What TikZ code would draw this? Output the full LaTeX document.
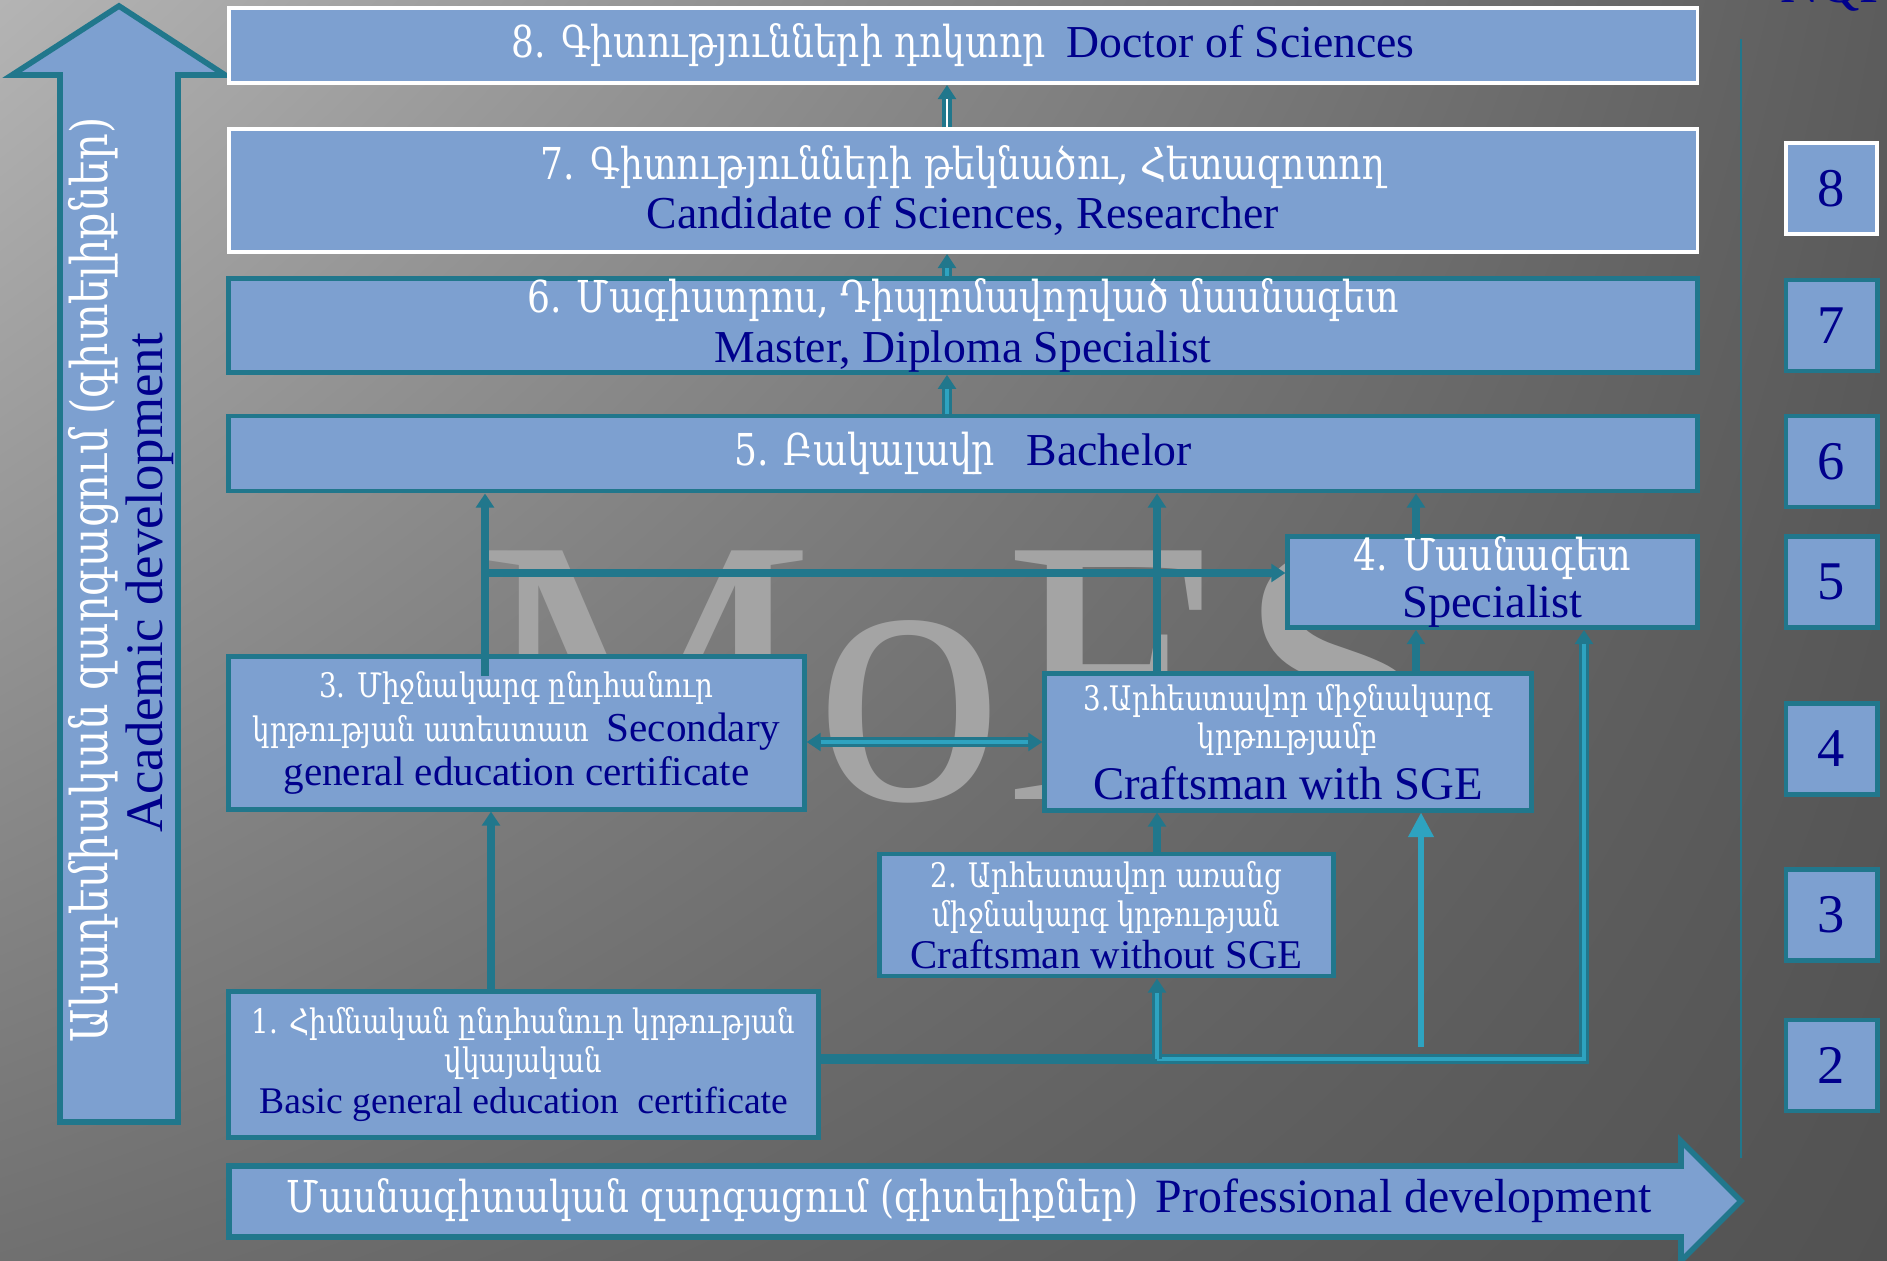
\documentclass[tikz,border=0pt]{standalone}
\usepackage{fontspec}
\setmainfont{Liberation Serif}
\newfontfamily\armf[FakeStretch=0.82]{DejaVu Serif}
\usetikzlibrary{arrows.meta,shadings}
\definecolor{bfill}{RGB}{125,160,208}
\definecolor{tealc}{RGB}{33,119,140}
\definecolor{cyanc}{RGB}{46,163,192}
\definecolor{tblue}{RGB}{0,0,140}
\definecolor{wmc}{RGB}{164,164,164}
\definecolor{bgA}{RGB}{180,180,180}
\definecolor{bgB}{RGB}{92,92,92}
\definecolor{bgC}{RGB}{112,112,112}
\definecolor{bgD}{RGB}{82,82,82}
\newcommand\ArmB[1]{{\armf\fontsize{12.5}{15}\selectfont\color{white}#1}}
\newcommand\ArmS[1]{{\armf\fontsize{9.6}{12}\selectfont\color{white}#1}}
\newcommand\EngB[1]{{\fontsize{13}{15}\selectfont\color{tblue}#1}}
\newcommand\EngS[2][11]{{\fontsize{#1}{13}\selectfont\color{tblue}#2}}
\tikzset{
  pbox/.style={draw=tealc, line width=1.4pt, fill=bfill, inner sep=0pt, align=center},
  wbox/.style={pbox, draw=white, line width=1.1pt},
  lvl/.style={pbox, minimum width=0.91cm, minimum height=0.91cm, text=tblue, font=\fontsize{15.5}{17}\selectfont},
  ahead/.style={-{Triangle[width=5pt,length=4pt]}},
  conn/.style={ahead, draw=tealc, line width=2.3pt},
  dblo/.style={ahead, draw=tealc, line width=2.6pt},
  dbli/.style={draw=cyanc, line width=1.1pt, shorten >=4pt},
  dbliw/.style={draw=white, line width=0.6pt, shorten >=4pt},
}
\begin{document}
\begin{tikzpicture}[x=0.01cm,y=-0.01cm]
\useasboundingbox (0,0) rectangle (1887,1261);
\clip (0,0) rectangle (1887,1261);
\shade[upper left=bgA, upper right=bgB, lower left=bgC, lower right=bgD] (0,0) rectangle (1887,1261);
% watermark
\node[anchor=base west, text=wmc, font=\fontsize{108}{110}\selectfont, inner sep=0pt] (wmark) at (476,800) {MoES};
% axes arrows
\draw[tealc, line width=1.6pt, fill=bfill] (60,1122) -- (60,75) -- (12,75) -- (119,6) -- (225,75) -- (178,75) -- (178,1122) -- cycle;
\draw[tealc, line width=1.6pt, fill=bfill] (229,1166) -- (1681,1166) -- (1681,1141) -- (1741,1201) -- (1681,1261) -- (1681,1237) -- (229,1237) -- cycle;
\node[rotate=90, inner sep=0pt] (acadA) at (94,580) {{\armf\fontsize{14.4}{16}\selectfont\color{white}Ակադեմիական զարգացում (գիտելիքներ)}};
\node[rotate=90, inner sep=0pt] (acadE) at (150,583) {{\fontsize{15}{17}\selectfont\color{tblue}Academic development}};
\node[inner sep=0pt] (profT) at (969,1201) {\ArmB{Մասնագիտական զարգացում (գիտելիքներ)}\hspace{5pt}{\fontsize{13.6}{15}\selectfont\color{tblue}Professional development}};
% separator
\draw[tealc, line width=0.6pt] (1741,39) -- (1741,1158);
\node[anchor=base west, inner sep=0pt, text=tblue, font=\fontsize{15.5}{17}\selectfont] (nqf) at (1780,3) {NQF};
% main boxes
\node[wbox, minimum width=14.68cm, minimum height=0.75cm] (b8) at (963,45.5) {\ArmB{8. Գիտությունների դոկտոր}\hspace{6pt}\EngB{Doctor of Sciences}};
\node[wbox, minimum width=14.68cm, minimum height=1.23cm, font=\fontsize{13}{14.2}\selectfont] (b7) at (963,190.5) {\ArmB{7. Գիտությունների թեկնածու, Հետազոտող}\\\EngB{Candidate of Sciences, Researcher}};
\node[pbox, minimum width=14.68cm, minimum height=0.91cm, font=\fontsize{13}{14.2}\selectfont] (b6) at (963,325.5) {\ArmB{6. Մագիստրոս, Դիպլոմավորված մասնագետ}\\\EngB{Master, Diploma Specialist}};
\node[pbox, minimum width=14.68cm, minimum height=0.75cm] (b5) at (963,453.5) {\ArmB{5. Բակալավր}\hspace{9pt}\EngB{Bachelor}};
\node[pbox, minimum width=4.09cm, minimum height=0.90cm, font=\fontsize{13}{13.4}\selectfont] (b4) at (1492.5,582) {\ArmB{4. Մասնագետ}\\\EngS[13.2]{Specialist}};
\node[pbox, minimum width=5.75cm, minimum height=1.52cm, font=\fontsize{11}{12.5}\selectfont] (b3a) at (516.5,733) {\ArmS{3. Միջնակարգ ընդհանուր}\\\ArmS{կրթության ատեստատ}\hspace{5pt}\EngS[11.7]{Secondary}\\\EngS[11.7]{general education certificate}};
\node[pbox, minimum width=4.86cm, minimum height=1.36cm, font=\fontsize{11}{10.8}\selectfont] (b3b) at (1288,742) {\ArmS{3.Արհեստավոր միջնակարգ}\\\ArmS{կրթությամբ}\\[2pt]\EngS[13.3]{Craftsman with SGE}};
\node[pbox, minimum width=4.53cm, minimum height=1.22cm, font=\fontsize{11}{11}\selectfont] (b2) at (1106.5,915) {\ArmS{2. Արհեստավոր առանց}\\\ArmS{միջնակարգ կրթության}\\[1pt]\EngS[11.6]{Craftsman without SGE}};
\node[pbox, minimum width=5.89cm, minimum height=1.45cm, font=\fontsize{11}{11}\selectfont] (b1) at (523.5,1064.5) {\ArmS{1. Հիմնական ընդհանուր կրթության}\\\ArmS{վկայական}\\[0.5pt]\EngS[10.7]{Basic general education\ \ certificate}};
% level boxes
\node[lvl, draw=white, line width=1.1pt] (L8) at (1831.5,188.5) {8};
\node[lvl] (L7) at (1831.5,325.5) {7};
\node[lvl] (L6) at (1831.5,461.5) {6};
\node[lvl] (L5) at (1831.5,582) {5};
\node[lvl] (L4) at (1831.5,749) {4};
\node[lvl] (L3) at (1831.5,915) {3};
\node[lvl] (L2) at (1831.5,1065.5) {2};
% helper coordinates
\coordinate (cx) at (947,0);
\coordinate (bx) at (491,0);
\coordinate (dx) at (1157,0);
\coordinate (ex) at (1416,0);
\coordinate (fx) at (1584,0);
\coordinate (a0) at (485,676);
\coordinate (h0) at (485,573);
\coordinate (ly) at (0,1059);
\coordinate (my) at (0,742);
\coordinate (g0) at (1421,1047);
% connectors up the top column
\draw[dblo] (b7.north -| cx) -- (b8.south -| cx);
\draw[dbliw] (b7.north -| cx) -- (b8.south -| cx);
\draw[dblo] (b6.north -| cx) -- (b7.south -| cx);
\draw[dbli] (b6.north -| cx) -- (b7.south -| cx);
\draw[dblo] (b5.north -| cx) -- (b6.south -| cx);
\draw[dbli] (b5.north -| cx) -- (b6.south -| cx);
% lower connectors
\draw[conn] (a0) -- (a0 |- b5.south);
\draw[conn] (h0) -- (h0 -| b4.west);
\draw[conn] (b3b.north -| dx) -- (b5.south -| dx);
\draw[conn] (b2.north -| dx) -- (b3b.south -| dx);
\draw[conn] (b4.north -| ex) -- (b5.south -| ex);
\draw[conn] (b3b.north -| ex) -- (b4.south -| ex);
\draw[conn] (b1.north -| bx) -- (b3a.south -| bx);
\draw[{Triangle[width=5pt,length=4pt]}-{Triangle[width=5pt,length=4pt]}, draw=tealc, line width=2.6pt] (b3a.east |- my) -- (b3b.west |- my);
\draw[draw=cyanc, line width=1.1pt, shorten >=4pt, shorten <=4pt] (b3a.east |- my) -- (b3b.west |- my);
\draw[dblo] (b1.east |- ly) -- (fx |- ly) -- (fx |- b4.south);
\draw[dbli] (dx |- ly) -- (fx |- ly) -- (fx |- b4.south);
\draw[dblo] (dx |- ly) -- (dx |- b2.south);
\draw[dbli] (dx |- ly) -- (dx |- b2.south);
\draw[cyanc, line width=1.5pt, -{Triangle[width=7pt,length=7pt]}] (g0) -- (g0 |- b3b.south);
\end{tikzpicture}
\end{document}
